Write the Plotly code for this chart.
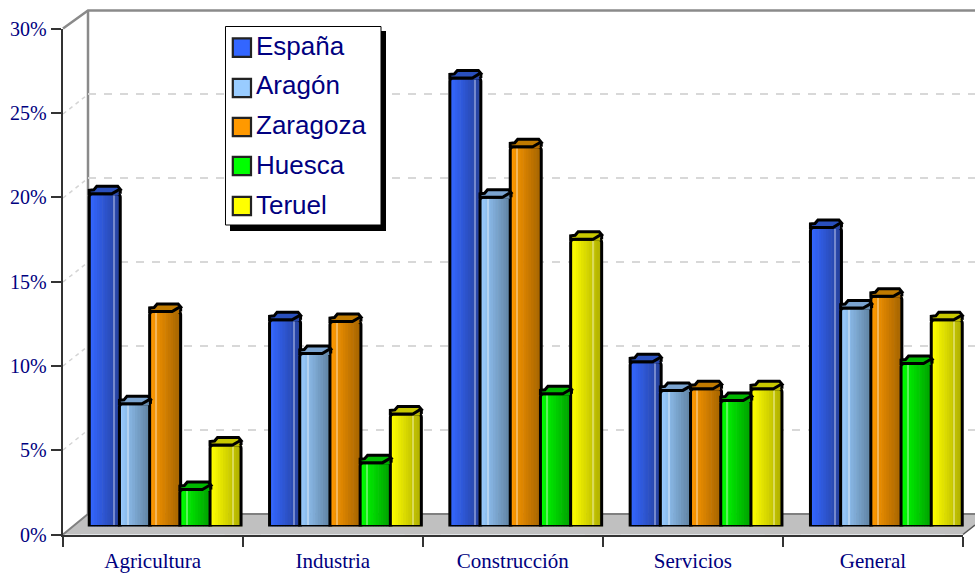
import plotly.graph_objects as go

W, H = 975, 574

categories = ['Agricultura', 'Industria', 'Construcción', 'Servicios', 'General']
y_ticks = [0, 5, 10, 15, 20, 25, 30]
y_tick_labels = ['0%', '5%', '10%', '15%', '20%', '25%', '30%']

espana = [19.8, 12.3, 26.7, 9.8, 17.8]
aragon = [7.3, 10.3, 19.6, 8.1, 13.0]
zaragoza = [12.8, 12.2, 22.6, 8.2, 13.7]
huesca = [2.2, 3.8, 7.9, 7.5, 9.7]
teruel = [4.85, 6.7, 17.1, 8.2, 12.3]

series_names = ['España', 'Aragón', 'Zaragoza', 'Huesca', 'Teruel']
series_values = [espana, aragon, zaragoza, huesca, teruel]
colors_light = ['#3366ff', '#99ccff', '#ff9900', '#00ff00', '#ffff00']
colors_dark = ['#27429c', '#5f82a2', '#a56400', '#00a000', '#b0b000']
colors_cap = ['#2a50bd', '#7ba4d0', '#c07a00', '#00b800', '#c8c800']
highlight_at = [0.78, 0.25, 0.2, 0.2, 0.72]

STRIPS = 12
PITCH = 180.3
BAR_W = 31 / PITCH
BAR_STEP = 30.2 / PITCH


def px_x(px):
    return px / W


def px_y(px):
    return 1 - px / H


def mix(c1, c2, t):
    a = [int(c1[i:i + 2], 16) for i in (1, 3, 5)]
    b = [int(c2[i:i + 2], 16) for i in (1, 3, 5)]
    return '#%02x%02x%02x' % tuple(round(p + (q - p) * t) for p, q in zip(a, b))


def paper_shape(path, fill='rgba(0,0,0,0)', line='rgba(0,0,0,0)', width=0, dash=None, layer='below'):
    return dict(type='path', path=path, xref='paper', yref='paper', fillcolor=fill, layer=layer,
                line=dict(color=line, width=width, dash=dash))


def pts(*xy):
    return 'M' + 'L'.join(f'{px_x(x):.5f},{px_y(y):.5f}' for x, y in xy)


def box(x0, y0, x1, y1):
    return pts((x0, y0), (x1, y0), (x1, y1), (x0, y1)) + 'Z'


fig = go.Figure()

# back wall grid
fig.add_trace(go.Scatter(x=[None], y=[None], xaxis='x', yaxis='y', showlegend=False, hoverinfo='skip'))
# front axes, ticks and labels
fig.add_trace(go.Bar(x=categories, y=[0] * 5, xaxis='x2', yaxis='y2', showlegend=False, hoverinfo='skip',
                     marker=dict(color='rgba(0,0,0,0)')))

shapes = [
    # floor and walls
    paper_shape(pts((63, 534.5), (88, 514), (975, 514), (975, 525), (963, 534.5)) + 'Z', fill='#c0c0c0'),
    paper_shape(pts((63, 534.5), (88, 514), (975, 514)), line='#808080', width=2),
    paper_shape(pts((63, 28.5), (88, 10.5), (975, 10.5)), line='#8a8a8a', width=2.5),
    paper_shape(pts((88, 10.5), (88, 514)), line='#8a8a8a', width=2.5),
    paper_shape(pts((963, 534.5), (975, 525)), line='#555555', width=1.5),
]
# dashes on the side wall
for front, back in zip([114, 198, 282, 366, 450], [94.4, 178.3, 262.2, 346.1, 430]):
    shapes.append(paper_shape(pts((63, front), (88, back)), line='#d4d4d4', width=1.5, dash='4px,4px'))

# the 3d top of a bar, in pixels from its top centre
cap_path = 'M-15.5,0 L-15.5,3.5 L-11,4 L-8,7.5 L13,7.5 L15.5,4.5 L13,3.5 L7,0 Z'
rise_path = 'M6,-1.5 L14,-1.5 L14,3.5 L12,3.5 Z'
edge_path = 'M15.5,0 L15.5,4.5'

for s, (name, values) in enumerate(zip(series_names, series_values)):
    offset = (s - 2) * BAR_STEP - BAR_W / 2
    for k in range(STRIPS):
        fig.add_trace(go.Bar(
            x=categories, y=values, xaxis='x3', yaxis='y3',
            width=BAR_W / STRIPS * 1.25, offset=offset + BAR_W * k / STRIPS,
            marker=dict(color=mix(colors_light[s], colors_dark[s], k / (STRIPS - 1)), line=dict(width=0)),
            showlegend=False, hoverinfo='skip',
        ))
    # thin highlight running down the bar
    shade = mix(colors_light[s], colors_dark[s], highlight_at[s])
    fig.add_trace(go.Bar(
        x=categories, y=values, xaxis='x3', yaxis='y3',
        width=1.2 / PITCH, offset=offset + BAR_W * highlight_at[s],
        marker=dict(color=mix(shade, '#ffffff', 0.35), line=dict(width=0)),
        showlegend=False, hoverinfo='skip',
    ))
    fig.add_trace(go.Bar(
        x=categories, y=values, xaxis='x3', yaxis='y3', name=name,
        width=BAR_W, offset=offset,
        marker=dict(color='rgba(0,0,0,0)', line=dict(color='black', width=3), cornerradius=3),
        showlegend=False,
        hovertemplate=name + ' %{x}: %{y}%<extra></extra>',
    ))
    # legend entry, its swatch is drawn below as a shape
    fig.add_trace(go.Scatter(
        x=[None], y=[None], xaxis='x3', yaxis='y3', mode='markers', name=name, legendgroup=name,
        marker=dict(symbol='square', size=16, color='rgba(0,0,0,0)'),
    ))
    for i, v in enumerate(values):
        anchor = dict(type='path', layer='above', xref='x3', yref='y3', xsizemode='pixel', ysizemode='pixel',
                      xanchor=i + (s - 2) * BAR_STEP, yanchor=v)
        shapes.append(dict(anchor, path=rise_path, fillcolor=mix(colors_light[s], colors_dark[s], 0.85),
                           line=dict(width=0)))
        shapes.append(dict(anchor, path=edge_path, line=dict(color='black', width=3)))
        shapes.append(dict(anchor, path=cap_path, fillcolor=colors_cap[s], line=dict(color='black', width=3)))

# legend box sits under the legend text
shapes += [
    paper_shape(box(230, 31, 386, 231), fill='black', layer='above'),
    paper_shape(box(225.5, 26.5, 381, 225), fill='white', line='black', width=1, layer='above'),
]
for color, cy in zip(colors_light, [47.6, 88, 127, 166, 206]):
    shapes.append(paper_shape(box(232.8, cy - 9.2, 251, cy + 9.2), fill=color, line='#222222', width=2.2,
                              layer='above'))

y_font = dict(family='Liberation Serif', size=20, color='#000080')
x_font = dict(family='Liberation Serif', size=21, color='#000080')

fig.update_layout(
    width=W, height=H, margin=dict(l=0, r=0, t=0, b=0, autoexpand=False),
    paper_bgcolor='white', plot_bgcolor='rgba(0,0,0,0)',
    barmode='overlay', shapes=shapes, showlegend=True,
    legend=dict(
        x=px_x(221), y=px_y(21), xanchor='left', yanchor='top',
        bgcolor='rgba(0,0,0,0)', borderwidth=0, indentation=-5,
        font=dict(family='Liberation Sans', size=26, color='#000080'),
        tracegroupgap=3, itemclick=False, itemdoubleclick=False,
    ),
    xaxis=dict(domain=[px_x(88), 1], range=[0, 1], visible=False, anchor='y'),
    yaxis=dict(domain=[px_y(514), px_y(10.5)], range=[0, 30], tickvals=y_ticks, showticklabels=False,
               showgrid=True, gridcolor='#d8d8d8', griddash='8px,8px', gridwidth=1.5,
               zeroline=False, showline=False, ticks='', anchor='x'),
    xaxis2=dict(domain=[px_x(62.7), px_x(963)], type='category', categoryorder='array', categoryarray=categories,
                anchor='y2', showline=True, linecolor='#333333', linewidth=2, ticks='outside', tickson='boundaries',
                ticklen=10, tickwidth=1.5, tickcolor='#333333', tickfont=x_font, showgrid=False, zeroline=False,
                ticklabelstandoff=6),
    yaxis2=dict(domain=[px_y(534.5), px_y(28.5)], range=[0, 30], tickvals=y_ticks, ticktext=y_tick_labels,
                anchor='x2', showline=True, linecolor='#333333', linewidth=2, ticks='outside', ticklen=10,
                tickwidth=1.5, tickcolor='#333333', tickfont=y_font, showgrid=False, zeroline=False),
    xaxis3=dict(domain=[px_x(75), px_x(975)], type='category', categoryorder='array', categoryarray=categories,
                anchor='y3', visible=False, range=[-0.5, 900 / PITCH - 0.5]),
    yaxis3=dict(domain=[px_y(526.5), px_y(22.5)], range=[0, 30], anchor='x3', visible=False),
)

fig.write_html("out.html", config=dict(displayModeBar=False),
               post_script="document.body.style.margin='0';document.body.style.overflow='hidden';")
